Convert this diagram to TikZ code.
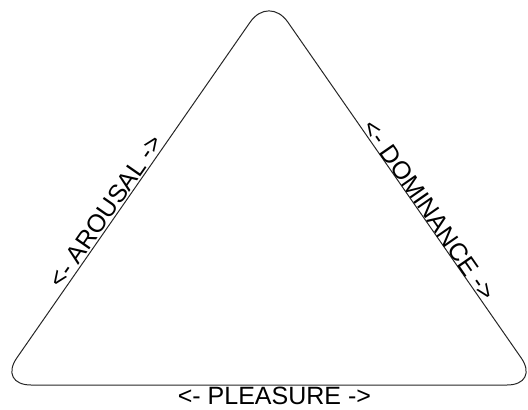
\documentclass[tikz,border=0pt]{standalone}
\usepackage{fontspec}
\setmainfont{Liberation Sans}
\usetikzlibrary{positioning, calc}

\begin{document}
\begin{tikzpicture}[x=1pt, y=-1pt,
    side/.style={draw=black!85, line width=1pt, rounded corners=33pt},
    axislabel/.style={font=\fontsize{25}{30}\selectfont, inner sep=1.5pt}]
    \useasboundingbox (0,0) rectangle (528,410);

    % corners of the triangle
    \coordinate (apex) at (269,-5);
    \coordinate (left) at (-2,385);
    \coordinate (right) at (540,385);

    \draw[side] (left) -- (apex) -- (right) -- cycle;

    % the three dimensions
    \path (left) -- (apex) node[axislabel, sloped, above, pos=.43] (arousal) {<- AROUSAL ->};
    \path (apex) -- (right) node[axislabel, sloped, above, inner sep=0pt, pos=.565] (dominance) {<- DOMINANCE ->};
    \path (left) -- (right) node[axislabel, below, pos=.51] (pleasure) {<- PLEASURE ->};
\end{tikzpicture}
\end{document}
